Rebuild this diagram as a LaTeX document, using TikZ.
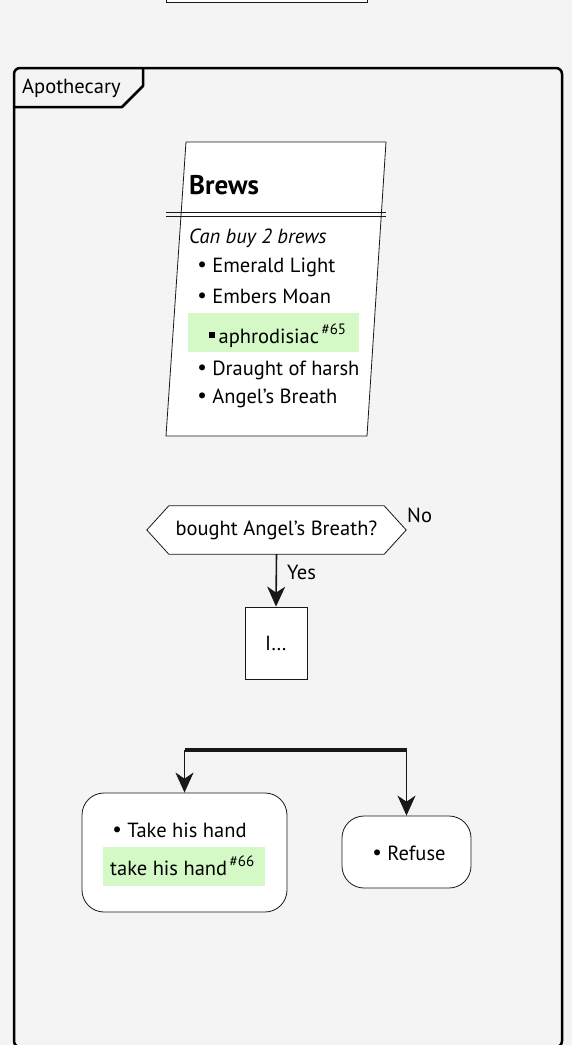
\documentclass[tikz,border=0pt]{standalone}
\usepackage{fontspec}
\setmainfont{PT Sans}
\newfontfamily\symfont{DejaVu Sans}
\usetikzlibrary{arrows.meta,positioning,calc}
\definecolor{canvas}{HTML}{F4F4F4}
\definecolor{linecolor}{HTML}{181818}
\definecolor{tagcolor}{HTML}{D4F8C6}
\newcommand\bodysize{\fontsize{20.5}{24}\selectfont}
\newcommand\tagref[1]{\raisebox{9pt}{\fontsize{15}{15}\selectfont\,#1}}
\newcommand\dotbullet{{\symfont •}\hspace{4pt}}
\tikzset{
  base/.style={font=\bodysize, text=black, inner sep=0pt},
  textline/.style={base, anchor=west},
  tagbox/.style={fill=tagcolor, inner sep=0pt},
  thinline/.style={draw=linecolor, line width=0.8pt},
  activity/.style={thinline, fill=white, rounded corners=22pt, inner sep=0pt},
  plainbox/.style={thinline, fill=white, inner sep=0pt},
  flow/.style={-{Stealth[length=20pt,width=18pt,inset=6pt]}, draw=linecolor, line width=1.6pt},
  forkbar/.style={draw=linecolor, line width=3.5pt},
  frameline/.style={draw=black, line width=2.5pt},
}

\begin{document}
\begin{tikzpicture}[x=1pt,y=-1pt]
  \fill[canvas] (0,0) rectangle (572,1045);
  \useasboundingbox (0,0) rectangle (572,1045);

  % box cut off by the top edge
  \draw[thinline, fill=white] (166,-10) rectangle (367,2);

  % partition frame
  \draw[frameline, rounded corners=6pt] (14,1047) -- (14,68) -- (562,68) -- (562,1047) -- cycle;
  \draw[frameline, line join=round] (14,107) -- (122,107) -- (143,86) -- (143,68);
  \node[textline] (frametitle) at (22,88) {Apothecary};

  % brews
  \draw[thinline, fill=white] (186,142) -- (386,142) -- (367,436) -- (166,436) -- cycle;
  \node[base, anchor=base west, font=\fontsize{27}{30}\selectfont\bfseries] (brewstitle) at (189,194) {Brews};
  \draw[thinline] (166,212) -- (386,212);
  \draw[thinline] (166,216) -- (386,216);
  \node[textline, font=\bodysize\itshape] (brewsnote) at (189,238) {Can buy 2 brews};
  \node[textline] (emerald) at (196,267) {\dotbullet Emerald Light};
  \node[textline] (embers) at (196,296) {\dotbullet Embers Moan};
  \node[tagbox, minimum width=171pt, minimum height=39pt] (aphrobox) at (273.5,332.5) {};
  \node[textline] (aphro) at (209,336) {\rule[6pt]{6pt}{6pt}\,aphrodisiac\tagref{\#65}};
  \node[textline] (draught) at (196,370) {\dotbullet Draught of harsh};
  \node[textline] (angel) at (196,398) {\dotbullet Angel's Breath};

  % decision
  \node[base, minimum width=259pt, minimum height=48pt] (dec) at (276.5,530) {bought Angel's Breath?};
  \draw[thinline, fill=white] (dec.west) -- ($(dec.north west)+(22,0)$) -- ($(dec.north east)+(-22,0)$)
    -- (dec.east) -- ($(dec.south east)+(-22,0)$) -- ($(dec.south west)+(22,0)$) -- cycle;
  \node[base] at (dec) {bought Angel's Breath?};
  \node[textline] (nolabel) at (407,515) {No};
  \node[textline] (yeslabel) at (287,572) {Yes};

  \node[plainbox, minimum width=62pt, minimum height=72pt, font=\bodysize] (ibox) at (276,643) {I…};
  \draw[flow] (dec.south) -- (ibox.north);

  % split
  \coordinate (forkL) at (184.5,750);
  \coordinate (forkR) at (406.5,750);
  \draw[forkbar] (forkL) -- (forkR);

  \node[activity, minimum width=205pt, minimum height=119pt] (takebox) at (184.5,852.5) {};
  \node[textline] (take) at (111,830) {\dotbullet Take his hand};
  \node[tagbox, minimum width=162pt, minimum height=39pt] (handbox) at (184,866.5) {};
  \node[textline] (hand) at (110,866) {take his hand\tagref{\#66}};

  \node[activity, minimum width=129pt, minimum height=72pt] (refusebox) at (406.5,852) {};
  \node[textline] (refuse) at (371,853) {\dotbullet Refuse};

  \draw[flow] (forkL) -- (takebox.north);
  \draw[flow] (forkR) -- (refusebox.north);
\end{tikzpicture}
\end{document}
